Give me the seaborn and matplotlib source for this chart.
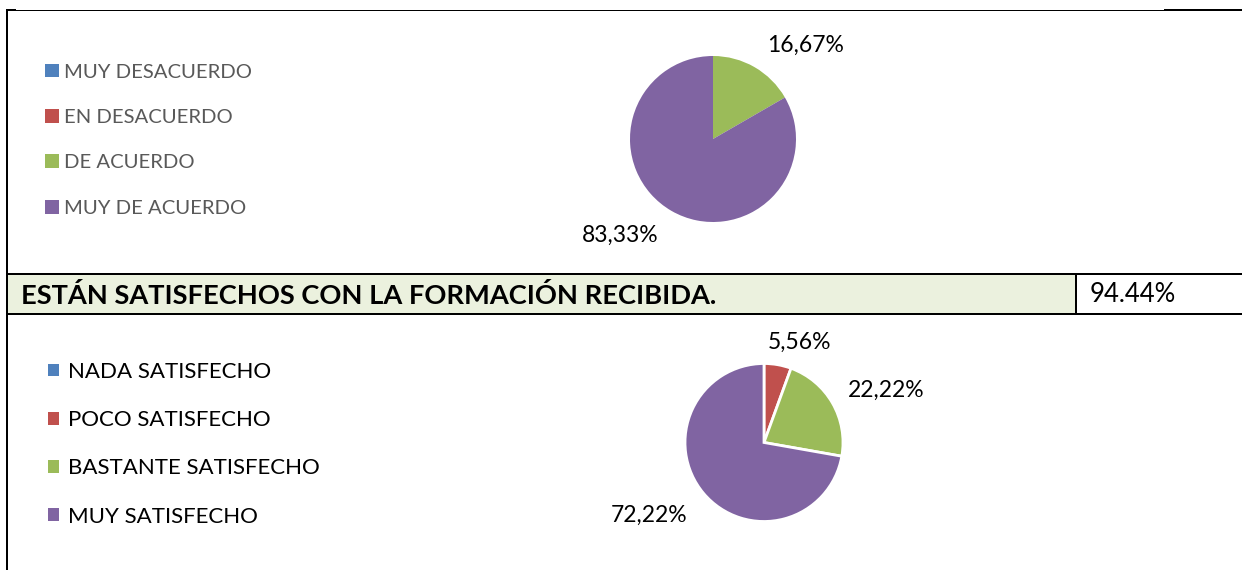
import numpy as np
import matplotlib
matplotlib.use("Agg")
import matplotlib.pyplot as plt
import matplotlib.patches as mpatches
import seaborn as sns

# ---------------- data ----------------
agree_categories = ["MUY DESACUERDO", "EN DESACUERDO", "DE ACUERDO", "MUY DE ACUERDO"]
agree_values = [0.0, 0.0, 16.67, 83.33]

satisf_categories = ["NADA SATISFECHO", "POCO SATISFECHO", "BASTANTE SATISFECHO", "MUY SATISFECHO"]
satisf_values = [0.0, 5.56, 22.22, 72.22]

header_text = "ESTÁN SATISFECHOS CON LA FORMACIÓN RECIBIDA."
header_value = "94.44%"

category_colors = ["#4F81BD", "#C0504D", "#9BBB59", "#8064A2"]

# ---------------- style ----------------
sns.set_theme(style="white")
plt.rcParams['font.family'] = ['Lato', 'DejaVu Sans']
palette = sns.color_palette(category_colors)

W, H = 1242, 570
fig = plt.figure(figsize=(W / 100, H / 100), dpi=100)
fig.patch.set_facecolor("white")

bg = fig.add_axes([0, 0, 1, 1])
bg.set_xlim(0, W)
bg.set_ylim(H, 0)
bg.axis("off")

PX = 0.72  # points per pixel

# table lines / header cell
bg.add_patch(mpatches.Rectangle((8, 275), 1067, 38, facecolor="#EBF1DE", edgecolor="none"))
bg.plot([7, 1164], [9.5, 9.5], color="black", lw=1 * PX, solid_capstyle="butt")
bg.plot([1164, W], [10, 10], color="black", lw=2 * PX, solid_capstyle="butt")
bg.plot([7, 16], [10, 10], color="black", lw=2 * PX, solid_capstyle="butt")
bg.plot([7, 7], [9, H], color="black", lw=2 * PX, solid_capstyle="butt")
bg.plot([7, W], [274, 274], color="black", lw=2 * PX, solid_capstyle="butt")
bg.plot([7, W], [314, 314], color="black", lw=2 * PX, solid_capstyle="butt")
bg.plot([1076, 1076], [274, 314], color="black", lw=2 * PX, solid_capstyle="butt")

bg.text(21, 304, header_text, fontsize=19.6, fontweight="bold", color="black",
        ha="left", va="baseline")
bg.text(1090, 302, header_value, fontsize=18.5, color="black", ha="left", va="baseline")


def fmt(v):
    return f"{v:.2f}%".replace(".", ",")


def draw_pie(cx, cy, r, values, label_layout, edge_lw):
    half = 1.2 * r
    ax = fig.add_axes([(cx - half) / W, (H - cy - half) / H, 2 * half / W, 2 * half / H])
    idx = [i for i, v in enumerate(values) if v > 0]
    vals = [values[i] for i in idx]
    cols = [palette[i] for i in idx]
    wedges, _ = ax.pie(vals, colors=cols, startangle=90, counterclock=False,
                       wedgeprops=dict(edgecolor="white", linewidth=edge_lw))
    ax.set_xlim(-1.2, 1.2)
    ax.set_ylim(-1.2, 1.2)
    ax.axis("off")
    for w, v, (dang, dist) in zip(wedges, vals, label_layout):
        mid = np.deg2rad((w.theta1 + w.theta2) / 2 + dang)
        ax.text(dist * np.cos(mid), dist * np.sin(mid), fmt(v), ha="center", va="center",
                fontsize=16.5, color="black", clip_on=False)
    return ax


# label layout: (angle offset from wedge middle in degrees, distance in radii)
top_label_layout = [(-14.5, 1.59), (-13.9, 1.61)]
bottom_label_layout = [(-9.7, 1.35), (-6.9, 1.68), (-7.6, 1.72)]

draw_pie(713, 139, 83, agree_values, top_label_layout, 0)
draw_pie(764, 442.5, 79, satisf_values, bottom_label_layout, 2.0)

# legends
top_handles = [mpatches.Patch(facecolor=palette[i], edgecolor="none") for i in range(len(agree_categories))]
fig.legend(handles=top_handles, labels=agree_categories, loc="upper left",
           bbox_to_anchor=(45, 63.5), bbox_transform=bg.transData, frameon=False,
           fontsize=14.6, labelcolor="#595959", handlelength=0.68, handleheight=0.68,
           handletextpad=0.25, labelspacing=1.40, borderpad=0, borderaxespad=0)

bot_handles = [mpatches.Patch(facecolor=palette[i], edgecolor="none") for i in range(len(satisf_categories))]
fig.legend(handles=bot_handles, labels=satisf_categories, loc="upper left",
           bbox_to_anchor=(48, 362), bbox_transform=bg.transData, frameon=False,
           fontsize=16, labelcolor="black", handlelength=0.5, handleheight=0.5,
           handletextpad=0.4, labelspacing=1.27, borderpad=0, borderaxespad=0)

fig.savefig("out.png", dpi=100, facecolor="white")
